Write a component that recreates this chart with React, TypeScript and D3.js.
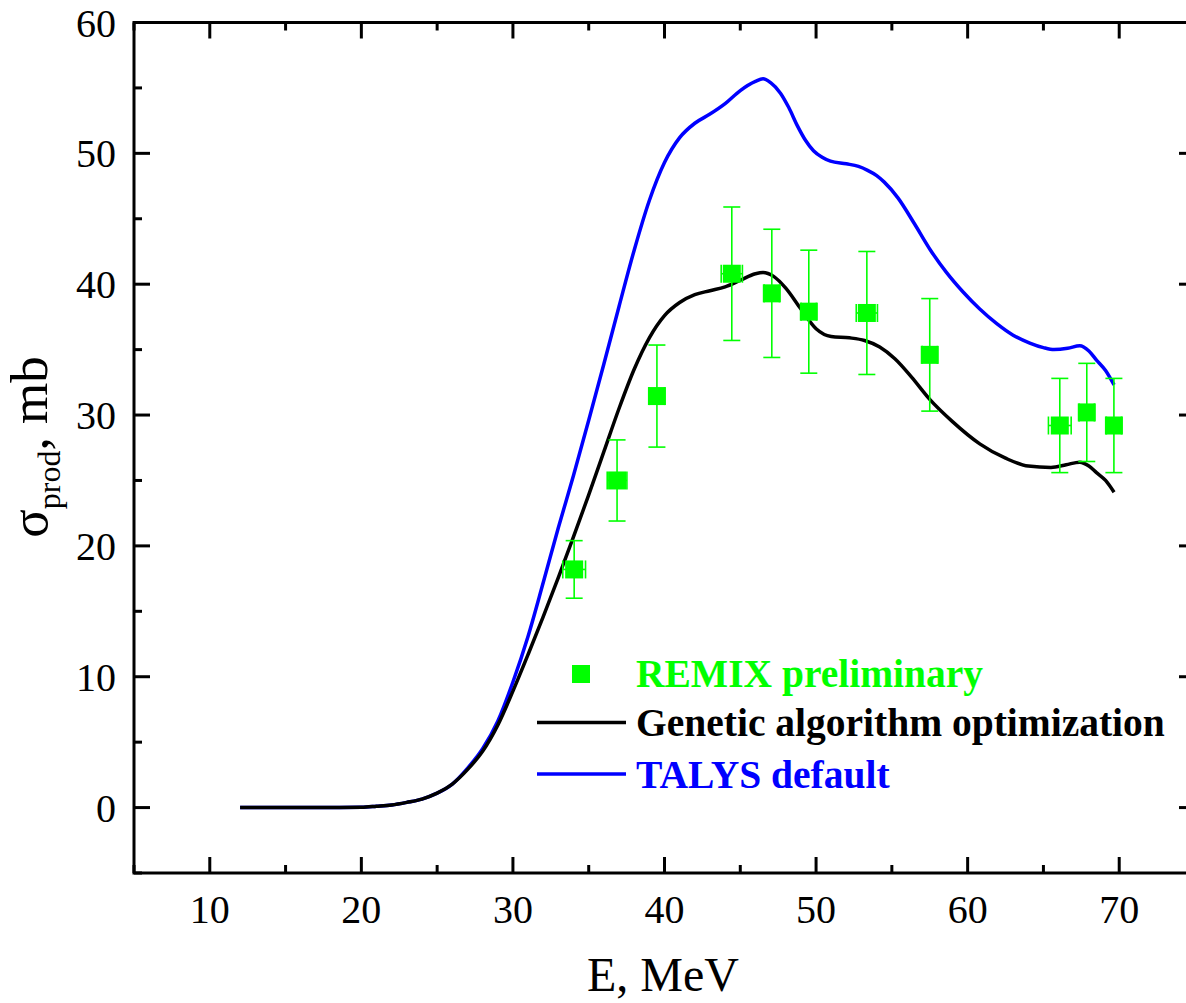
import React from "react";
import * as d3 from "d3";

// ---- data ----
const remixE = [34.04, 36.87, 39.5, 44.44, 47.08, 49.52, 53.35, 57.5, 66.08, 67.86, 69.65];
const remixSigma = [18.2, 25.0, 31.45, 40.8, 39.3, 37.9, 37.8, 34.6, 29.2, 30.2, 29.2];
const remixErr = [2.2, 3.1, 3.9, 5.1, 4.9, 4.7, 4.7, 4.3, 3.6, 3.75, 3.6];
const remixXErr = [0.75, 0.65, 0.5, 0.7, 0.5, 0.5, 0.7, 0.5, 0.75, 0.5, 0.5];

const talysE = [12, 14, 16, 18, 20, 21, 22, 23, 24, 25, 26, 27, 28, 29, 30, 31, 32, 33, 34, 35, 36, 37, 38, 39, 40, 41, 42, 43, 44, 45, 46, 46.5, 47.0, 47.65, 48.2, 48.77, 49.3, 49.83, 50.4, 50.95, 52.0, 52.8, 53.4, 54.0, 54.5, 55.4, 56.5, 57.55, 58.6, 59.7, 60.8, 61.9, 63.0, 64.1, 65.0, 65.7, 66.6, 67.4, 68.0, 68.5, 69.1, 69.66];
const talysSigma = [0, 0, 0, 0, 0.02, 0.1, 0.2, 0.4, 0.65, 1.1, 1.8, 3.0, 4.5, 6.6, 9.6, 13.1, 17.2, 21.4, 25.4, 29.6, 33.9, 38.3, 42.6, 46.4, 49.3, 51.2, 52.3, 53.0, 53.8, 54.8, 55.5, 55.7, 55.4, 54.6, 53.5, 52.1, 51.0, 50.2, 49.7, 49.4, 49.2, 49.0, 48.7, 48.3, 47.8, 46.6, 44.6, 42.6, 40.9, 39.4, 38.1, 37.0, 36.1, 35.5, 35.15, 35.0, 35.1, 35.3, 34.9, 34.2, 33.4, 32.3];

const gaE = [12, 14, 16, 18, 20, 21, 22, 23, 24, 25, 26, 27, 28, 29, 30, 31, 32, 33, 34, 35, 36, 37, 38, 39, 40, 41, 42, 43, 44, 45, 46, 46.5, 47.2, 48.0, 49.0, 50.0, 51.0, 52.2, 53.2, 54.2, 55.2, 56.3, 57.5, 59.0, 60.8, 62.5, 64.0, 65.5, 66.5, 67.4, 68.0, 68.5, 69.1, 69.66];
const gaSigma = [0, 0, 0, 0, 0.02, 0.1, 0.2, 0.4, 0.65, 1.1, 1.8, 2.9, 4.3, 6.3, 8.9, 11.7, 14.6, 17.6, 20.7, 23.9, 27.2, 30.5, 33.5, 35.9, 37.6, 38.6, 39.2, 39.5, 39.8, 40.3, 40.8, 40.9, 40.6, 39.7, 38.1, 36.6, 36.0, 35.9, 35.7, 35.2, 34.3, 32.9, 31.2, 29.5, 27.8, 26.7, 26.1, 26.0, 26.2, 26.4, 26.1, 25.6, 25.0, 24.1];

const xTicks = [10, 20, 30, 40, 50, 60, 70];
const xMinor = [5, 15, 25, 35, 45, 55, 65, 75];
const yTicks = [0, 10, 20, 30, 40, 50, 60];
const yMinor = [-5, 5, 15, 25, 35, 45, 55];

const legendLabels = ["REMIX preliminary", "Genetic algorithm optimization", "TALYS default"];

const GREEN = "#00ff00";
const BLUE = "#0000ff";
const FONT = "'Liberation Serif', 'Times New Roman', serif";

export default function App() {
  const W = 1186, H = 1003;
  const left = 134, right = 1195, top = 22.5, bottom = 873;
  const x = d3.scaleLinear().domain([5, 75]).range([left, right]);
  const y = d3.scaleLinear().domain([-5, 60]).range([bottom, top]);

  const line = d3
    .line<[number, number]>()
    .x((d) => x(d[0]))
    .y((d) => y(d[1]))
    .curve(d3.curveMonotoneX);

  const talysPath = line(talysE.map((e, i) => [e, talysSigma[i]] as [number, number])) || "";
  const gaPath = line(gaE.map((e, i) => [e, gaSigma[i]] as [number, number])) || "";

  const major = 16, minor = 8;
  const ms = 18;

  return (
    <div style={{ position: "absolute", left: 0, top: 0 }}>
      <svg width={W} height={H} style={{ display: "block", background: "#fff" }}>
        {/* curves */}
        <path d={talysPath} fill="none" stroke={BLUE} strokeWidth={3.5} strokeLinejoin="round" />
        <path d={gaPath} fill="none" stroke="#000" strokeWidth={3.5} strokeLinejoin="round" />

        {/* data points */}
        {remixE.map((e, i) => {
          const cx = x(e), cy = y(remixSigma[i]);
          const y1 = y(remixSigma[i] + remixErr[i]);
          const y2 = y(remixSigma[i] - remixErr[i]);
          const x1 = x(e - remixXErr[i]);
          const x2 = x(e + remixXErr[i]);
          return (
            <g key={i} stroke={GREEN} strokeWidth={1.6}>
              <line x1={cx} x2={cx} y1={y1} y2={y2} />
              <line x1={cx - 8.5} x2={cx + 8.5} y1={y1} y2={y1} />
              <line x1={cx - 8.5} x2={cx + 8.5} y1={y2} y2={y2} />
              <line x1={x1} x2={x2} y1={cy} y2={cy} />
              <line x1={x1} x2={x1} y1={cy - 9} y2={cy + 9} />
              <line x1={x2} x2={x2} y1={cy - 9} y2={cy + 9} />
              <rect x={cx - ms / 2} y={cy - ms / 2} width={ms} height={ms} fill={GREEN} stroke="none" />
            </g>
          );
        })}

        {/* frame */}
        <rect x={left} y={top} width={right - left} height={bottom - top} fill="none" stroke="#000" strokeWidth={3} />

        {/* ticks */}
        <g stroke="#000" strokeWidth={3}>
          {xTicks.map((t) => (
            <g key={"xt" + t}>
              <line x1={x(t)} x2={x(t)} y1={bottom} y2={bottom - major} />
              <line x1={x(t)} x2={x(t)} y1={top} y2={top + major} />
            </g>
          ))}
          {xMinor.map((t) => (
            <g key={"xm" + t}>
              <line x1={x(t)} x2={x(t)} y1={bottom} y2={bottom - minor} />
              <line x1={x(t)} x2={x(t)} y1={top} y2={top + minor} />
            </g>
          ))}
          {yTicks.map((t) => (
            <g key={"yt" + t}>
              <line x1={left} x2={left + major} y1={y(t)} y2={y(t)} />
              <line x1={right} x2={right - major} y1={y(t)} y2={y(t)} />
            </g>
          ))}
          {yMinor.map((t) => (
            <g key={"ym" + t}>
              <line x1={left} x2={left + minor} y1={y(t)} y2={y(t)} />
              <line x1={right} x2={right - minor} y1={y(t)} y2={y(t)} />
            </g>
          ))}
        </g>

        {/* tick labels */}
        <g fontFamily={FONT} fontSize={40} fill="#000">
          {xTicks.map((t) => (
            <text key={"xl" + t} x={x(t)} y={bottom + 50} textAnchor="middle">
              {t}
            </text>
          ))}
          {yTicks.map((t) => (
            <text key={"yl" + t} x={116} y={y(t) + 14} textAnchor="end">
              {t}
            </text>
          ))}
        </g>

        {/* axis titles */}
        <text x={663} y={991} fontFamily={FONT} fontSize={48} textAnchor="middle" fill="#000">
          E, MeV
        </text>
        <text
          transform="translate(47, 447) rotate(-90)"
          fontFamily={FONT}
          fontSize={53}
          textAnchor="middle"
          fill="#000"
        >
          σ
          <tspan fontSize={32} dy={13}>prod</tspan>
          <tspan dy={-13}>, mb</tspan>
        </text>

        {/* legend */}
        <rect x={581 - ms / 2} y={674 - ms / 2} width={ms} height={ms} fill={GREEN} />
        <line x1={537} x2={626} y1={722.5} y2={722.5} stroke="#000" strokeWidth={3.5} />
        <line x1={537} x2={626} y1={774} y2={774} stroke={BLUE} strokeWidth={3.5} />
        <g fontFamily={FONT} fontSize={39.5} fontWeight="bold">
          <text x={636} y={687} fill={GREEN}>{legendLabels[0]}</text>
          <text x={636} y={736} fill="#000">{legendLabels[1]}</text>
          <text x={636} y={788} fill={BLUE}>{legendLabels[2]}</text>
        </g>
      </svg>
    </div>
  );
}
